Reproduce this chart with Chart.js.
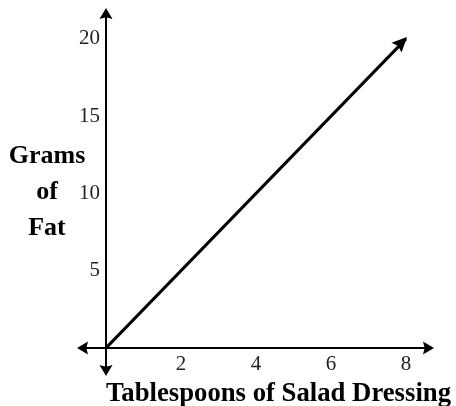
<!DOCTYPE html>
<html>
<head>
<meta charset="utf-8">
<script src="https://cdn.jsdelivr.net/npm/chart.js@4"></script>
<style>
  html, body { margin: 0; padding: 0; background: #fff; }
  #wrap { width: 456px; height: 406px; }
</style>
</head>
<body>
<div id="wrap"><canvas id="chart"></canvas></div>
<script>
// Data
const tablespoons = [0, 8];
const gramsOfFat = [0, 20];
const xTicks = [2, 4, 6, 8];
const yTicks = [5, 10, 15, 20];
const xTitle = 'Tablespoons of Salad Dressing';
const yTitle = ['Grams', 'of', 'Fat'];

const serif = "'Liberation Serif', 'Times New Roman', serif";

// filled arrow head, tip at (x, y), pointing along angle
function arrowHead(ctx, x, y, angle, len, half) {
    ctx.save();
    ctx.translate(x, y);
    ctx.rotate(angle);
    ctx.beginPath();
    ctx.moveTo(0, 0);
    ctx.lineTo(-len, -half);
    ctx.lineTo(-len * 0.85, 0);
    ctx.lineTo(-len, half);
    ctx.closePath();
    ctx.fill();
    ctx.restore();
}

// axes with arrows, the arrow on the line and the horizontal y title
const axesPlugin = {
    id: 'axesPlugin',
    afterDatasetsDraw(chart) {
        const ctx = chart.ctx;
        const xs = chart.scales.x, ys = chart.scales.y;
        const ox = xs.getPixelForValue(0), oy = ys.getPixelForValue(0);
        ctx.save();
        ctx.strokeStyle = '#000';
        ctx.fillStyle = '#000';
        ctx.lineWidth = 2;
        // x axis
        const xl = ox - 29, xr = 434;
        ctx.beginPath();
        ctx.moveTo(xl + 6, oy);
        ctx.lineTo(xr - 6, oy);
        ctx.stroke();
        arrowHead(ctx, xr, oy, 0, 11, 6.5);
        arrowHead(ctx, xl, oy, Math.PI, 11, 6.5);
        // y axis
        const yt = 8, yb = oy + 28;
        ctx.beginPath();
        ctx.moveTo(ox, yt + 6);
        ctx.lineTo(ox, yb - 6);
        ctx.stroke();
        arrowHead(ctx, ox, yt, -Math.PI / 2, 11, 6.5);
        arrowHead(ctx, ox, yb, Math.PI / 2, 11, 6.5);
        // arrow at the end of the data line
        const n = tablespoons.length - 1;
        const x0 = xs.getPixelForValue(tablespoons[n - 1]), y0 = ys.getPixelForValue(gramsOfFat[n - 1]);
        const x1 = xs.getPixelForValue(tablespoons[n]), y1 = ys.getPixelForValue(gramsOfFat[n]);
        arrowHead(ctx, x1 + 1, y1 - 2, Math.atan2(y1 - y0, x1 - x0), 15, 7);
        // y title
        ctx.font = 'bold 26px ' + serif;
        ctx.textAlign = 'center';
        ctx.textBaseline = 'middle';
        yTitle.forEach((t, i) => ctx.fillText(t, 47, 156 + i * 36));
        ctx.restore();
    }
};

new Chart(document.getElementById('chart'), {
    type: 'scatter',
    data: {
        datasets: [{
            data: tablespoons.map((x, i) => ({ x: x, y: gramsOfFat[i] })),
            showLine: true,
            borderColor: '#000',
            borderWidth: 3,
            pointRadius: 0,
            fill: false
        }]
    },
    options: {
        responsive: true,
        maintainAspectRatio: false,
        animation: false,
        layout: { padding: { top: 8, right: 5, left: 0, bottom: 0 } },
        plugins: { legend: { display: false }, tooltip: { enabled: false } },
        scales: {
            x: {
                type: 'linear',
                min: 0,
                max: 9.2,
                grid: { display: false, drawTicks: false },
                border: { display: false },
                afterBuildTicks: (s) => { s.ticks = xTicks.map(v => ({ value: v })); },
                afterFit: (s) => { s.height = 58; s.paddingLeft = 0; s.paddingRight = 0; },
                ticks: { color: '#222', padding: 4, font: { family: serif, size: 21 } },
                title: {
                    display: true,
                    text: xTitle,
                    color: '#000',
                    padding: { top: 0, bottom: -4 },
                    font: { family: serif, size: 27, weight: 'bold' }
                }
            },
            y: {
                type: 'linear',
                min: 0,
                max: 22,
                grid: { display: false, drawTicks: false },
                border: { display: false },
                afterBuildTicks: (s) => { s.ticks = yTicks.map(v => ({ value: v })); },
                afterFit: (s) => { s.width = 106; s.paddingTop = 0; s.paddingBottom = 0; },
                ticks: { color: '#222', padding: 6, font: { family: serif, size: 21 } }
            }
        }
    },
    plugins: [axesPlugin]
});
</script>
</body>
</html>
